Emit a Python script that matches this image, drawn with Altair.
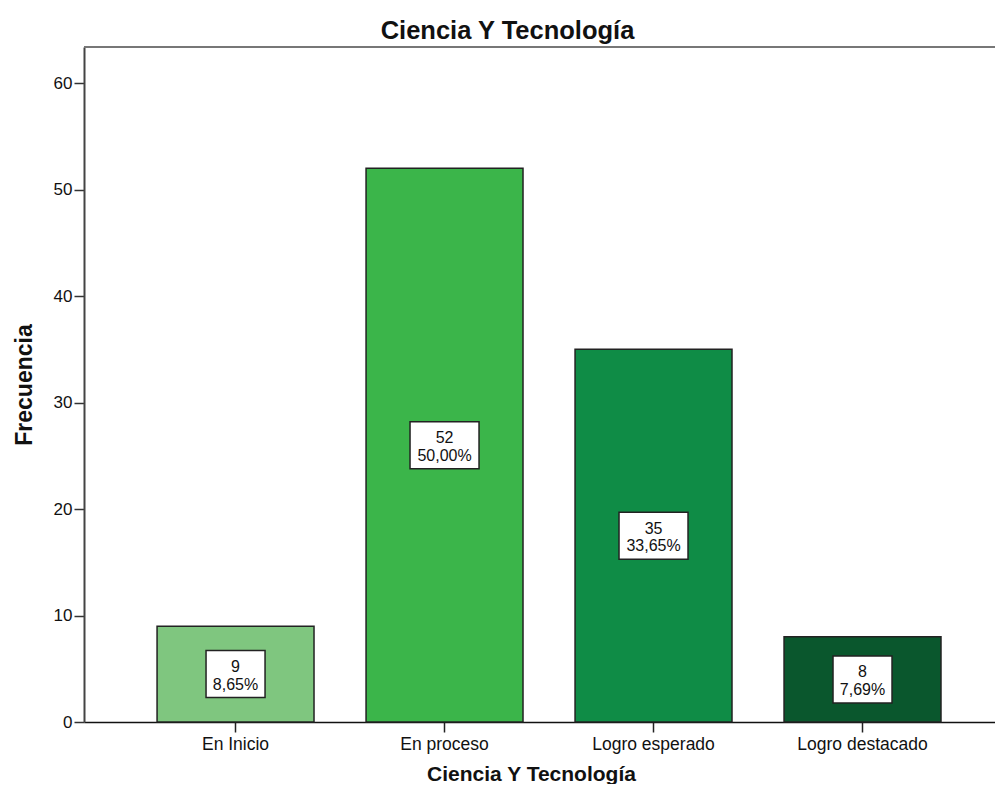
import altair as alt
import pandas as pd

categories = ["En Inicio", "En proceso", "Logro esperado", "Logro destacado"]
counts = [9, 52, 35, 8]
percents = ["8,65%", "50,00%", "33,65%", "7,69%"]
colors = ["#7fc67f", "#3bb54a", "#0f8c46", "#0a572d"]
y_ticks = [0, 10, 20, 30, 40, 50, 60]

df = pd.DataFrame({"cat": categories, "count": counts, "pct": percents})
df["mid"] = df["count"] / 2
df["label"] = df["count"].astype(str) + "\n" + df["pct"]

FONT = "Liberation Sans"
W, H = 911, 675
YMAX = 63.4

xscale = alt.Scale(domain=categories, paddingInner=0.249, paddingOuter=0.304, align=0.575)
yscale = alt.Scale(domain=[0, YMAX], nice=False, zero=True)

x_enc = alt.X(
    "cat:N", sort=categories, scale=xscale, title="Ciencia Y Tecnología",
    axis=alt.Axis(
        labelAngle=0, labelFont=FONT, labelFontSize=17.5, labelColor="#111",
        tickSize=10, tickColor="#222", tickWidth=1.5,
        domainColor="#111", domainWidth=1.5, labelPadding=3,
        titleFont=FONT, titleFontSize=21, titleFontWeight="bold", titleColor="#111",
        titleX=447, titleY=58, titleBaseline="alphabetic",
    ),
)
y_enc = alt.Y(
    "count:Q", scale=yscale, title="Frecuencia",
    axis=alt.Axis(
        values=y_ticks, grid=False, labelFont=FONT, labelFontSize=17, labelColor="#111",
        tickSize=10, tickColor="#333", tickWidth=1.5, labelPadding=2,
        domainColor="#444", domainWidth=2,
        titleFont=FONT, titleFontSize=23, titleFontWeight="bold", titleColor="#111",
        titleX=-53, titleY=H / 2, titleBaseline="alphabetic", titleAngle=270,
    ),
)

bars = alt.Chart(df).mark_bar(stroke="#222", strokeWidth=1.5).encode(
    x=x_enc,
    y=y_enc,
    color=alt.Color("cat:N", scale=alt.Scale(domain=categories, range=colors), legend=None),
)

top_rule = alt.Chart(df).mark_rule(color="#777", strokeWidth=2).encode(y=alt.datum(YMAX))

wide_box = "M-34.5,-23.5H34.5V23.5H-34.5Z"
narrow_box = "M-29.5,-23.5H29.5V23.5H-29.5Z"

boxes = alt.Chart(df).mark_point(
    filled=True, fill="white", stroke="#222", strokeWidth=1.5, size=4, opacity=1,
    fillOpacity=1, strokeOpacity=1,
).encode(
    x=alt.X("cat:N", sort=categories, scale=xscale),
    y=alt.Y("mid:Q", scale=yscale),
    shape=alt.condition("datum.count >= 10", alt.value(wide_box), alt.value(narrow_box)),
)

texts = alt.Chart(df).mark_text(
    lineBreak="\n", font=FONT, fontSize=16, lineHeight=17.5, color="#111",
    baseline="middle", align="center", dy=-7,
).encode(
    x=alt.X("cat:N", sort=categories, scale=xscale),
    y=alt.Y("mid:Q", scale=yscale),
    text="label:N",
)

chart = alt.layer(bars, top_rule, boxes, texts).properties(
    width=W, height=H,
    padding={"left": 76, "top": 39, "right": 0, "bottom": 62},
    autosize="none",
    title=alt.TitleParams(
        "Ciencia Y Tecnología", font=FONT, fontSize=25.5, fontWeight="bold", color="#111",
        anchor="middle", frame="group", dx=-32, dy=28, offset=5, baseline="bottom",
    ),
).configure_view(stroke=None, fill="#f0f0f0").configure(background="white")

chart.save("out.html", embed_options={"renderer": "svg", "actions": False})
